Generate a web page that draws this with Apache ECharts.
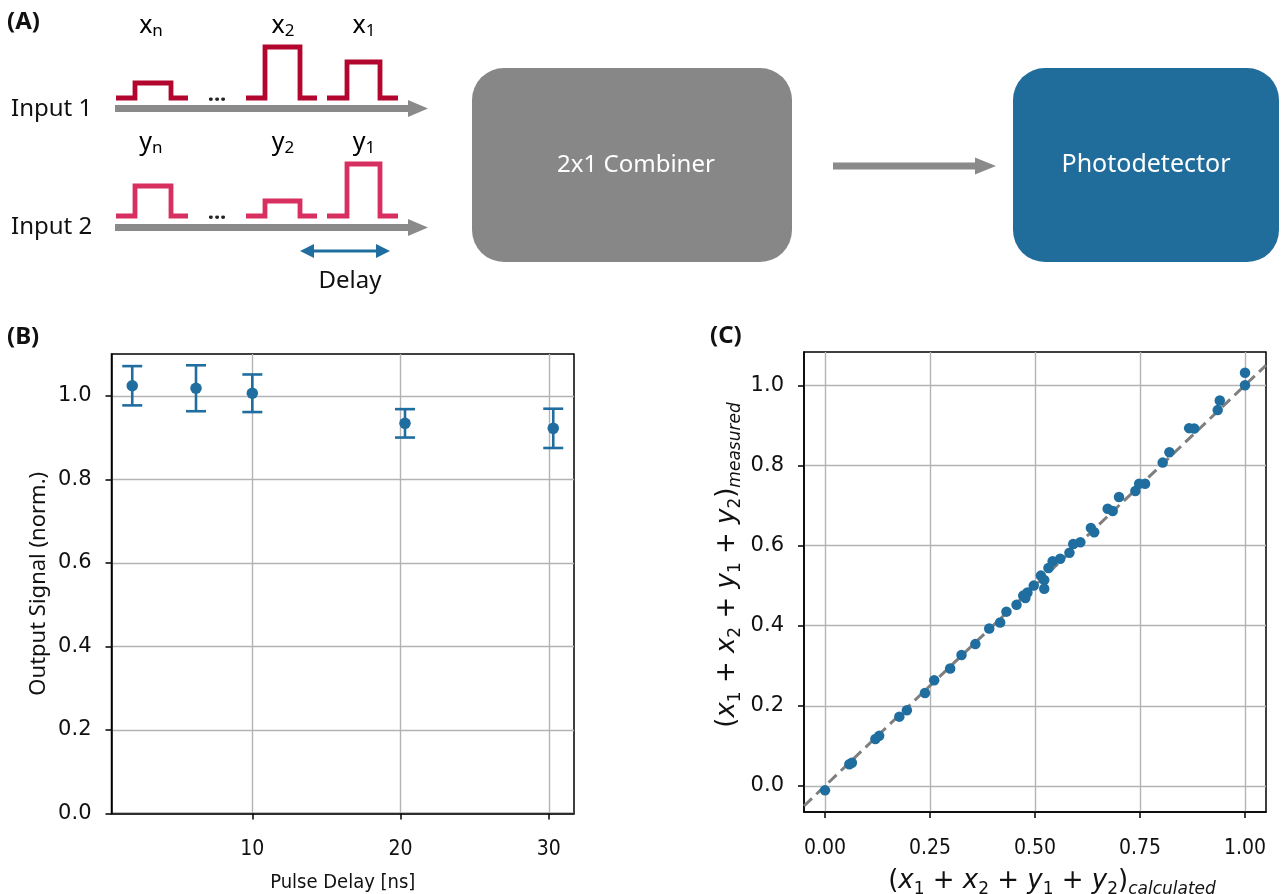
<!DOCTYPE html>
<html>
<head>
<meta charset="utf-8">
<title>Pulse combiner</title>
<script src="https://cdn.jsdelivr.net/npm/echarts@6/dist/echarts.min.js"></script>
<style>
  html, body { margin: 0; padding: 0; background: #fff; }
  #main { width: 1282px; height: 894px; }
</style>
</head>
<body>
<div id="main"></div>
<script>
/* -------------------------------------------  Data (B) pulse delay sweep  ------------------------------------------- */
const delayNs = [1.9, 6.2, 10.0, 20.3, 30.3];
const signalNorm = [1.024, 1.018, 1.006, 0.934, 0.922];
const signalErr = [0.047, 0.055, 0.045, 0.034, 0.047];

/* -------------------------------------------  Data (C) calculated vs measured  ------------------------------------------- */
const calcSum = [
  1.000, 1.000, 0.940, 0.935, 0.867, 0.879, 0.820, 0.804, 0.748, 0.762,
  0.739, 0.700, 0.673, 0.685, 0.633, 0.641, 0.608, 0.591, 0.582, 0.560,
  0.542, 0.532, 0.514, 0.522, 0.522, 0.497, 0.482, 0.472, 0.477, 0.456,
  0.432, 0.417, 0.391, 0.358, 0.325, 0.298, 0.260, 0.238, 0.195, 0.177,
  0.129, 0.120, 0.064, 0.058, 0.000
];
const measSum = [
  1.031, 1.000, 0.962, 0.938, 0.893, 0.892, 0.833, 0.807, 0.754, 0.754,
  0.736, 0.721, 0.692, 0.686, 0.644, 0.633, 0.608, 0.604, 0.582, 0.567,
  0.561, 0.544, 0.525, 0.514, 0.492, 0.500, 0.483, 0.475, 0.469, 0.452,
  0.435, 0.408, 0.393, 0.354, 0.327, 0.293, 0.264, 0.232, 0.189, 0.173,
  0.125, 0.117, 0.058, 0.054, -0.011
];
const identityLine = [-0.05, 1.05];

/* -------------------------------------------  Tick labels  ------------------------------------------- */
const bXTicks = [10, 20, 30];
const bYTicks = [0, 0.2, 0.4, 0.6, 0.8, 1.0];
const cXTicks = [0, 0.25, 0.5, 0.75, 1.0];
const cYTicks = [0, 0.2, 0.4, 0.6, 0.8, 1.0];

/* -------------------------------------------  Styles  ------------------------------------------- */
const pointColor = '#1f6e9f';
const gridColor = '#b3b3b3';
const tickFont = 'DejaVu Sans';
const narrowFont = "'Liberation Sans Narrow', 'DejaVu Sans Condensed', sans-serif";
const textFont = "'Noto Sans', 'Open Sans', sans-serif";

/* -------------------------------------------  Math-like rich text  ------------------------------------------- */
const mathRich = {
  p: { fontFamily: tickFont, fontSize: 26, lineHeight: 34, color: '#111' },
  v: { fontFamily: tickFont, fontSize: 26, lineHeight: 34, fontStyle: 'italic', color: '#111' },
  s: { fontFamily: tickFont, fontSize: 17, lineHeight: 15, verticalAlign: 'bottom', color: '#111' },
  si: { fontFamily: tickFont, fontSize: 17, lineHeight: 15, verticalAlign: 'bottom', fontStyle: 'italic', color: '#111' }
};
function sumLabel(sub) {
  return '{p|(}{v|x}{s|1}{p| + }{v|x}{s|2}{p| + }{v|y}{s|1}{p| + }{v|y}{s|2}{p|)}{si|' + sub + '}';
}

/* -------------------------------------------  Axis builder  ------------------------------------------- */
function valueAxis(gridIndex, min, max, step, ticks, isX, fontFamily, decimals) {
  return {
    type: 'value',
    gridIndex,
    min,
    max,
    minInterval: step,
    maxInterval: step,
    axisLine: { show: true, onZero: false, lineStyle: { color: '#000', width: 1.5 } },
    axisTick: { show: true, inside: false, length: 6, customValues: ticks, lineStyle: { color: '#000', width: 1.5 } },
    axisLabel: {
      customValues: ticks,
      margin: isX ? 26 : 20,
      fontFamily,
      fontSize: 21,
      color: '#111',
      formatter: (v) => v.toFixed(decimals)
    },
    splitLine: { show: true, lineStyle: { color: gridColor, width: 1.4 } }
  };
}

/* -------------------------------------------  Error bars  ------------------------------------------- */
function renderErrorBar(params, api) {
  const x = api.value(0);
  const lo = api.coord([x, api.value(1)]);
  const hi = api.coord([x, api.value(2)]);
  const cap = 10;
  const style = { stroke: pointColor, lineWidth: 2.6 };
  return {
    type: 'group',
    children: [
      { type: 'line', shape: { x1: hi[0], y1: hi[1], x2: lo[0], y2: lo[1] }, style },
      { type: 'line', shape: { x1: hi[0] - cap, y1: hi[1], x2: hi[0] + cap, y2: hi[1] }, style },
      { type: 'line', shape: { x1: lo[0] - cap, y1: lo[1], x2: lo[0] + cap, y2: lo[1] }, style }
    ]
  };
}

/* -------------------------------------------  Diagram (A)  ------------------------------------------- */
function pulsePath(slot, base, top) {
  return [[slot[0], base], [slot[1], base], [slot[1], top], [slot[2], top], [slot[2], base], [slot[3], base]];
}
function arrow(x1, x2, y, w, head, color) {
  return [
    { type: 'line', shape: { x1, y1: y, x2: x2 - head, y2: y }, style: { stroke: color, lineWidth: w } },
    { type: 'polygon', shape: { points: [[x2 - head - 1, y - w * 1.2], [x2, y], [x2 - head - 1, y + w * 1.2]] }, style: { fill: color } }
  ];
}
function buildDiagram() {
  const slots = [[116, 135, 171, 188], [246, 265, 300, 317], [327, 347, 380, 398]];
  const red = '#b3062e';
  const pink = '#d72f5f';
  const tops1 = [83, 47, 62];
  const tops2 = [186, 201, 164];
  const els = [];
  const labelStyle = (txt, x, y) => ({
    type: 'text', x, y,
    style: {
      text: txt, align: 'center', verticalAlign: 'middle',
      rich: {
        v: { fontFamily: textFont, fontSize: 25, lineHeight: 28, color: '#111' },
        s: { fontFamily: textFont, fontSize: 17, lineHeight: 13, verticalAlign: 'bottom', color: '#111' }
      }
    }
  });
  slots.forEach((slot, i) => {
    els.push({ type: 'polyline', shape: { points: pulsePath(slot, 98, tops1[i]) }, style: { stroke: red, lineWidth: 4.8, fill: null } });
    els.push({ type: 'polyline', shape: { points: pulsePath(slot, 216, tops2[i]) }, style: { stroke: pink, lineWidth: 4.8, fill: null } });
  });
  const subs = ['n', '2', '1'];
  const lx = [151, 283, 364];
  subs.forEach((s, i) => {
    els.push(labelStyle('{v|x}{s|' + s + '}', lx[i], 26));
    els.push(labelStyle('{v|y}{s|' + s + '}', lx[i], 143));
  });
  const dots = { align: 'center', verticalAlign: 'bottom', fontFamily: textFont, fontSize: 22, fontWeight: 'bold', fill: '#222' };
  els.push({ type: 'text', x: 217, y: 106, style: Object.assign({ text: '...' }, dots) });
  els.push({ type: 'text', x: 217, y: 224, style: Object.assign({ text: '...' }, dots) });
  els.push(...arrow(115, 428, 108.5, 7, 19, '#8a8a8a'));
  els.push(...arrow(115, 428, 227.5, 7, 19, '#8a8a8a'));
  // delay double arrow
  els.push({ type: 'line', shape: { x1: 310, y1: 251, x2: 380, y2: 251 }, style: { stroke: '#1f6e9f', lineWidth: 3 } });
  els.push({ type: 'polygon', shape: { points: [[300, 251], [314, 244], [314, 258]] }, style: { fill: '#1f6e9f' } });
  els.push({ type: 'polygon', shape: { points: [[390, 251], [376, 244], [376, 258]] }, style: { fill: '#1f6e9f' } });
  els.push({ type: 'text', x: 350, y: 281, style: { text: 'Delay', align: 'center', verticalAlign: 'middle', fontFamily: textFont, fontSize: 24, fill: '#111' } });
  els.push({ type: 'text', x: 11, y: 109, style: { text: 'Input 1', verticalAlign: 'middle', fontFamily: textFont, fontSize: 24, fill: '#111' } });
  els.push({ type: 'text', x: 11, y: 227, style: { text: 'Input 2', verticalAlign: 'middle', fontFamily: textFont, fontSize: 24, fill: '#111' } });
  // blocks
  els.push({ type: 'rect', shape: { x: 472, y: 68, width: 320, height: 194, r: 32 }, style: { fill: '#878787' } });
  els.push({ type: 'text', x: 636, y: 165, style: { text: '2x1 Combiner', align: 'center', verticalAlign: 'middle', fontFamily: textFont, fontSize: 24, fill: '#fff' } });
  els.push(...arrow(833, 996, 166, 7, 20, '#8a8a8a'));
  els.push({ type: 'rect', shape: { x: 1013, y: 68, width: 266, height: 194, r: 32 }, style: { fill: '#206c9b' } });
  els.push({ type: 'text', x: 1146, y: 165, style: { text: 'Photodetector', align: 'center', verticalAlign: 'middle', fontFamily: textFont, fontSize: 25, fill: '#fff' } });
  // panel tags
  const tag = (t, x, y) => ({ type: 'text', x, y, style: { text: t, verticalAlign: 'middle', fontFamily: textFont, fontSize: 24, fontWeight: 'bold', fill: '#111' } });
  els.push(tag('(A)', 7, 22), tag('(B)', 7, 337), tag('(C)', 710, 336));
  return els;
}

/* -------------------------------------------  Chart  ------------------------------------------- */
const chart = echarts.init(document.getElementById('main'), null, { renderer: 'canvas' });

const bPoints = delayNs.map((x, i) => [x, signalNorm[i]]);
const bBars = delayNs.map((x, i) => [x, signalNorm[i] - signalErr[i], signalNorm[i] + signalErr[i]]);
const cPoints = calcSum.map((x, i) => [x, measSum[i]]);

const bx = valueAxis(0, 0.5, 31.7, 10, bXTicks, true, narrowFont, 0);
bx.name = 'Pulse Delay [ns]';
bx.nameLocation = 'middle';
bx.nameGap = 59;
bx.nameTextStyle = { fontFamily: narrowFont, fontSize: 20, color: '#111' };

const by = valueAxis(0, 0, 1.1, 0.2, bYTicks, false, tickFont, 1);
by.name = 'Output Signal (norm.)';
by.nameLocation = 'middle';
by.nameGap = 62;
by.nameTextStyle = { fontFamily: textFont, fontSize: 22, color: '#111' };

const cx = valueAxis(1, identityLine[0], identityLine[1], 0.25, cXTicks, true, narrowFont, 2);
cx.name = sumLabel('calculated');
cx.nameLocation = 'middle';
cx.nameGap = 52;
cx.nameTextStyle = { rich: mathRich, padding: [0, 0, 0, 34] };

const cy = valueAxis(1, -0.065, 1.083, 0.2, cYTicks, false, tickFont, 1);
cy.name = sumLabel('measured');
cy.nameLocation = 'middle';
cy.nameGap = 60;
cy.nameTextStyle = { rich: mathRich, padding: [0, 0, 0, 34] };

chart.setOption({
  animation: false,
  backgroundColor: '#fff',
  grid: [
    { left: 111.5, top: 354, right: 708, bottom: 80.5, outerBoundsMode: 'none', show: true, borderColor: '#000', borderWidth: 1.5 },
    { left: 804, top: 352, right: 16, bottom: 82, outerBoundsMode: 'none', show: true, borderColor: '#000', borderWidth: 1.5 }
  ],
  xAxis: [bx, cx],
  yAxis: [by, cy],
  graphic: buildDiagram(),
  series: [
    {
      type: 'custom',
      xAxisIndex: 0,
      yAxisIndex: 0,
      renderItem: renderErrorBar,
      encode: { x: 0, y: [1, 2] },
      data: bBars,
      z: 3
    },
    {
      type: 'scatter',
      xAxisIndex: 0,
      yAxisIndex: 0,
      symbolSize: 11.5,
      itemStyle: { color: pointColor, opacity: 1 },
      data: bPoints,
      z: 4
    },
    {
      type: 'line',
      xAxisIndex: 1,
      yAxisIndex: 1,
      symbol: 'none',
      lineStyle: { color: '#7f7f7f', width: 3, type: [11, 6] },
      data: identityLine.map((v) => [v, v]),
      z: 2
    },
    {
      type: 'scatter',
      xAxisIndex: 1,
      yAxisIndex: 1,
      symbolSize: 10.5,
      itemStyle: { color: pointColor, opacity: 1 },
      data: cPoints,
      z: 4
    }
  ]
});
</script>
</body>
</html>
